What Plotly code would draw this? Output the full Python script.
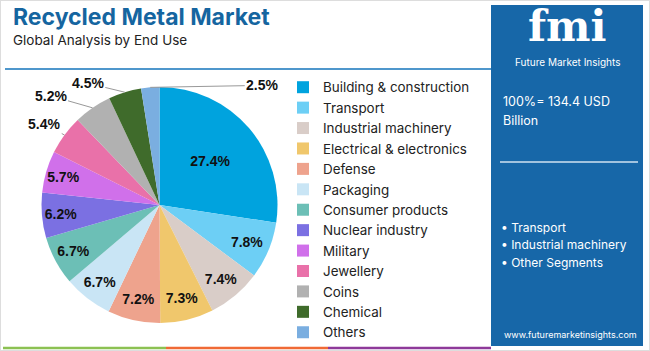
import math
import plotly.graph_objects as go

W, H = 650, 351

categories = ["Building & construction", "Transport", "Industrial machinery",
              "Electrical & electronics", "Defense", "Packaging", "Consumer products",
              "Nuclear industry", "Military", "Jewellery", "Coins", "Chemical", "Others"]
shares = [27.4, 7.8, 7.4, 7.3, 7.2, 6.7, 6.7, 6.2, 5.7, 5.4, 5.2, 4.5, 2.5]
colors = ["#00a3de", "#6dcff5", "#d9cdc8", "#f0c76c", "#eea38d", "#c9e5f5", "#6cbfb6",
          "#7b70e2", "#d070ea", "#e971a9", "#b1b1b1", "#3f6b2b", "#7aaee0"]
inside_flags = [True] * 9 + [False] * 4

total_lines = ["100%= 134.4 USD", "Billion"]
key_segments = ["Transport", "Industrial machinery", "Other Segments"]


def px(x):
    return x / W


def py(y):
    return 1 - y / H


# pie domain (pixels)
PX0, PX1, PY0, PY1 = 41, 278, 87, 323
cx, cy = (PX0 + PX1) / 2, (PY0 + PY1) / 2
R = min(PX1 - PX0, PY1 - PY0) / 2

fig = go.Figure()
fig.add_trace(go.Pie(
    labels=categories, values=shares, marker=dict(colors=colors, line=dict(width=0)),
    sort=False, direction="clockwise", rotation=0,
    text=[f"{v:.1f}%" if f else "" for v, f in zip(shares, inside_flags)],
    textinfo="text",
    textposition=["inside" if f else "none" for f in inside_flags],
    insidetextorientation="horizontal",
    textfont=dict(family="Liberation Sans", size=14, color="#111111", weight="bold"),
    domain=dict(x=[px(PX0), px(PX1)], y=[py(PY1), py(PY0)]),
    hoverinfo="label+percent",
))

shapes = [
    dict(type="rect", xref="paper", yref="paper", x0=0, x1=1, y0=0, y1=1,
         line=dict(color="#dddddd", width=2), fillcolor="rgba(0,0,0,0)", layer="below"),
    dict(type="line", xref="paper", yref="paper", x0=px(5), x1=px(491), y0=py(69), y1=py(69),
         line=dict(color="#4f97cc", width=2)),
    dict(type="rect", xref="paper", yref="paper", x0=px(491), x1=px(643), y0=py(346), y1=py(5),
         fillcolor="#1767a8", line=dict(width=0), layer="below"),
    dict(type="line", xref="paper", yref="paper", x0=px(500), x1=px(638), y0=py(162), y1=py(162),
         line=dict(color="#d0e2f2", width=1.5)),
    dict(type="line", xref="paper", yref="paper", x0=px(3), x1=px(166), y0=py(348), y1=py(348),
         line=dict(color="#8cc152", width=2.5)),
    dict(type="line", xref="paper", yref="paper", x0=px(166), x1=px(328), y0=py(348), y1=py(348),
         line=dict(color="#f06a35", width=2.5)),
    dict(type="line", xref="paper", yref="paper", x0=px(328), x1=px(491), y0=py(348), y1=py(348),
         line=dict(color="#8e3a9a", width=2.5)),
]

ann = [
    dict(text="<b>Recycled Metal Market</b>", x=px(11), y=py(17), xanchor="left", yanchor="middle",
         font=dict(family="Inter", size=23, color="#1565a0")),
    dict(text="Global Analysis by End Use", x=px(11), y=py(40), xanchor="left", yanchor="middle",
         font=dict(family="Inter", size=13.5, color="#222222")),
    dict(text="<b>fmi</b>", x=px(567), y=py(27), xanchor="center", yanchor="middle",
         font=dict(family="DejaVu Serif", size=42, color="#ffffff")),
    dict(text="Future Market Insights", x=px(567), y=py(62), xanchor="center", yanchor="middle",
         font=dict(family="Inter", size=10, color="#ffffff")),
    dict(text=total_lines[0], x=px(501), y=py(101), xanchor="left", yanchor="middle",
         font=dict(family="Inter", size=12.5, color="#ffffff")),
    dict(text=total_lines[1], x=px(501), y=py(121), xanchor="left", yanchor="middle",
         font=dict(family="Inter", size=12.5, color="#ffffff")),
    dict(text="www.futuremarketinsights.com", x=px(570), y=py(334), xanchor="center", yanchor="middle",
         font=dict(family="Inter", size=9, color="#ffffff")),
]
for i, s in enumerate(key_segments):
    ann.append(dict(text="• " + s, x=px(499), y=py(227 + 17.5 * i), xanchor="left", yanchor="middle",
                    font=dict(family="Inter", size=12, color="#ffffff")))

# outside labels for small slices, anchored at slice mid-angle on the rim
offsets = {9: (-20, -11), 10: (-42, -12), 11: (-37, -9), 12: (112, -2)}
cum = 0.0
tot = sum(shares)
for i, v in enumerate(shares):
    mid = (cum + v / 2) / tot * 2 * math.pi
    cum += v
    if inside_flags[i]:
        continue
    ex = cx + R * math.sin(mid)
    ey = cy - R * math.cos(mid)
    ax, ay = offsets[i]
    ann.append(dict(text=f"<b>{v:.1f}%</b>", x=px(ex), y=py(ey), ax=ax, ay=ay,
                    showarrow=True, arrowhead=0, arrowwidth=1, arrowcolor="#999999",
                    font=dict(family="Liberation Sans", size=14, color="#111111")))

for a in ann:
    a.update(xref="paper", yref="paper")
    a.setdefault("showarrow", False)

fig.update_layout(
    width=W, height=H, margin=dict(l=0, r=0, t=0, b=0),
    paper_bgcolor="#ffffff", plot_bgcolor="#ffffff",
    shapes=shapes, annotations=ann,
    uniformtext=dict(minsize=14, mode="show"),
    showlegend=True,
    legend=dict(x=px(283), y=py(72), xanchor="left", yanchor="top",
                font=dict(family="Inter", size=13.4, color="#222222"),
                bgcolor="rgba(0,0,0,0)", tracegroupgap=0),
)

fig.write_html("out.html")
